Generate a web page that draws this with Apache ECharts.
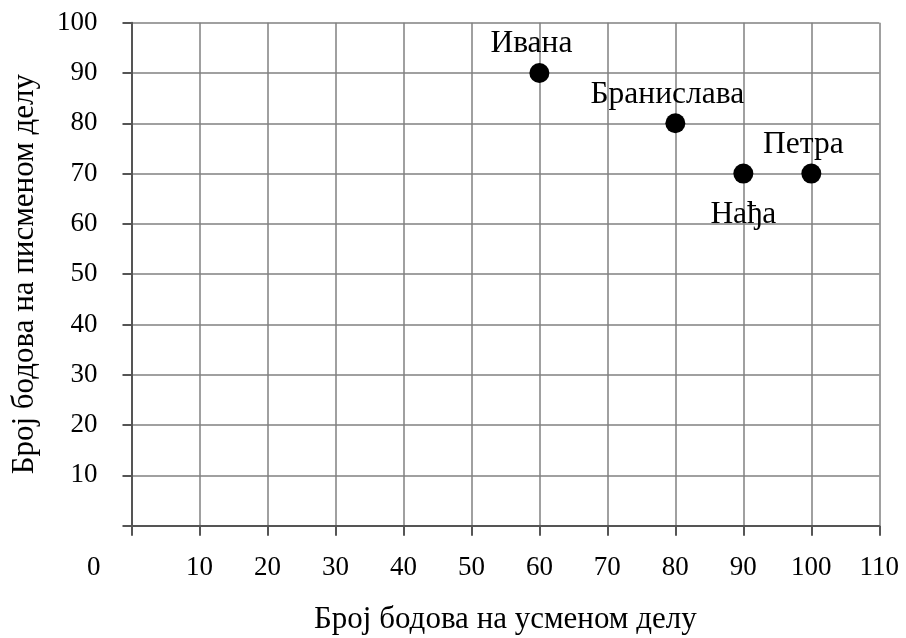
<!DOCTYPE html>
<html><head><meta charset="utf-8">
<script src="https://cdn.jsdelivr.net/npm/echarts@6/dist/echarts.min.js"></script>
<style>html,body{margin:0;padding:0;background:#fff}#c{width:906px;height:638px}</style>
</head><body><div id="c"></div>
<script>
const names = ['Ивана', 'Бранислава', 'Нађа', 'Петра'];
const oral = [60, 80, 90, 100];
const written = [90, 80, 70, 70];
const xTicks = [0,10,20,30,40,50,60,70,80,90,100,110];
const yTicks = [0,10,20,30,40,50,60,70,80,90,100];
const xTitle = 'Број бодова на усменом делу';
const yTitle = 'Број бодова на писменом делу';

const FONT = 'Liberation Serif';
const FS_NUM = 27;
const FS_TXT = 31.5;
const FS_TITLE = 31;
const chart = echarts.init(document.getElementById('c'));
const data = names.map((n, i) => {
  const below = n === 'Нађа';
  return {
    name: n, value: [oral[i], written[i]],
    label: below ? {position: 'bottom', distance: 15, offset: [0, 0]} : {position: 'top', distance: 3, offset: [-8, 0]}
  };
});
chart.setOption({
  animation: false,
  textStyle: {fontFamily: FONT},
  grid: {left: 131.5, right: 26.7, top: 22.7, bottom: 112.3, containLabel: false, outerBoundsMode: 'none'},
  xAxis: {
    type: 'value', min: xTicks[0], max: xTicks[xTicks.length-1], interval: 10,
    name: xTitle, nameLocation: 'middle', nameGap: 79,
    nameTextStyle: {fontSize: FS_TITLE, color: '#000', fontFamily: FONT},
    axisLine: {show: true, lineStyle: {color: '#555', width: 2}},
    axisTick: {show: true, inside: false, length: 10, lineStyle: {color: '#555', width: 2}},
    axisLabel: {fontSize: FS_NUM, color: '#000', fontFamily: FONT, margin: 29,
      formatter: v => v === 0 ? '' : String(v)},
    splitLine: {show: true, lineStyle: {color: '#808080', width: 1.5}}
  },
  yAxis: {
    type: 'value', min: yTicks[0], max: yTicks[yTicks.length-1], interval: 10,
    name: yTitle, nameLocation: 'middle', nameGap: 91,
    nameTextStyle: {fontSize: FS_TITLE, color: '#000', fontFamily: FONT},
    axisLine: {show: true, lineStyle: {color: '#555', width: 2}},
    axisTick: {show: true, inside: false, length: 9, lineStyle: {color: '#555', width: 2}},
    axisLabel: {fontSize: FS_NUM, color: '#000', fontFamily: FONT, margin: 34,
      formatter: v => v === 0 ? '' : String(v)},
    splitLine: {show: true, lineStyle: {color: '#808080', width: 1.5}}
  },
  graphic: [{type: 'text', left: 87, top: 554, style: {text: '0', font: FS_NUM + 'px "' + FONT + '"', fill: '#000'}}],
  series: [{
    type: 'scatter', symbol: 'circle', symbolSize: 20,
    itemStyle: {color: '#000', opacity: 1},
    label: {show: true, formatter: p => p.name, fontSize: FS_TXT, color: '#000', fontFamily: FONT},
    data: data
  }]
});
</script></body></html>
